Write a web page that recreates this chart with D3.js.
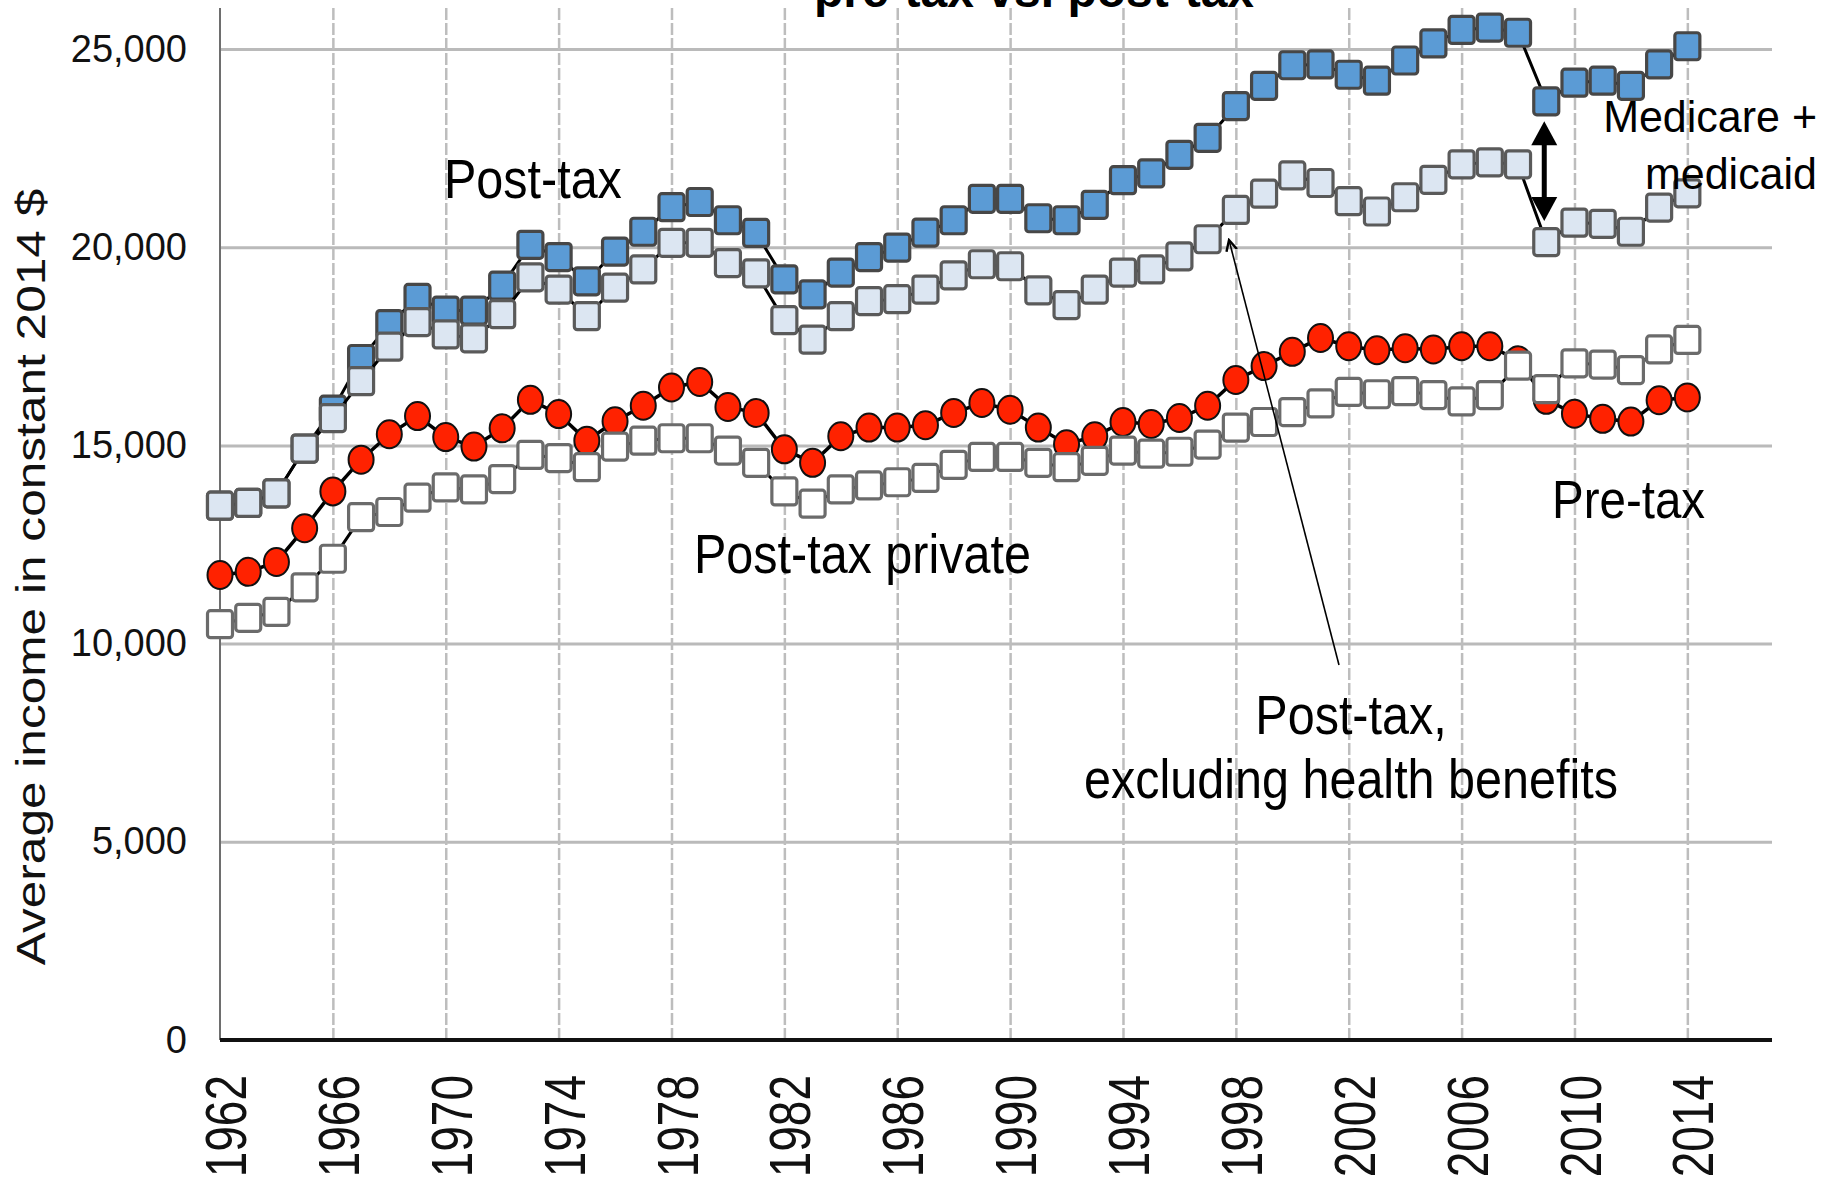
<!DOCTYPE html>
<html>
<head>
<meta charset="utf-8">
<script src="https://cdn.jsdelivr.net/npm/d3@7"></script>
<style>
  body { margin: 0; background: #fff; }
  svg { display: block; font-family: "Liberation Sans", Arial, sans-serif; }
</style>
</head>
<body>
<svg id="chart" width="1837" height="1185"></svg>
<script>
// Years on the x axis
const years = [1962, 1963, 1964, 1965, 1966, 1967, 1968, 1969, 1970, 1971, 1972, 1973, 1974, 1975,
  1976, 1977, 1978, 1979, 1980, 1981, 1982, 1983, 1984, 1985, 1986, 1987, 1988, 1989, 1990, 1991,
  1992, 1993, 1994, 1995, 1996, 1997, 1998, 1999, 2000, 2001, 2002, 2003, 2004, 2005, 2006, 2007,
  2008, 2009, 2010, 2011, 2012, 2013, 2014];

const tickYears = [1962, 1966, 1970, 1974, 1978, 1982, 1986, 1990, 1994, 1998, 2002, 2006, 2010, 2014];
const tickValues = [0, 5000, 10000, 15000, 20000, 25000];

// Post-tax (blue squares)
const postTax = [13480, 13550, 13790, 14920, 15900, 17180, 18060, 18720, 18400, 18400, 19030, 20060,
  19750, 19140, 19890, 20390, 21010, 21140, 20680, 20360, 19190, 18810, 19360, 19750, 19990, 20370,
  20680, 21220, 21220, 20730, 20680, 21070, 21690, 21860, 22330, 22760, 23560, 24070, 24590, 24610,
  24350, 24200, 24710, 25140, 25480, 25540, 25410, 23680, 24150, 24200, 24070, 24610, 25070];

// Post-tax, excluding health benefits (light squares)
const postTaxExHealth = [13480, 13550, 13790, 14920, 15690, 16620, 17490, 18110, 17800, 17700, 18310,
  19240, 18930, 18260, 18980, 19440, 20110, 20110, 19600, 19340, 18160, 17670, 18260, 18640, 18690,
  18930, 19290, 19570, 19520, 18910, 18540, 18930, 19360, 19440, 19770, 20200, 20940, 21350, 21810,
  21620, 21160, 20900, 21260, 21700, 22090, 22140, 22090, 20130, 20620, 20590, 20390, 21000, 21360];

// Pre-tax (red circles)
const preTax = [11730, 11810, 12060, 12910, 13840, 14640, 15280, 15740, 15210, 14970, 15430, 16150,
  15790, 15120, 15610, 16000, 16460, 16600, 15970, 15820, 14900, 14560, 15230, 15450, 15450, 15510,
  15820, 16070, 15900, 15450, 15030, 15230, 15590, 15540, 15690, 16000, 16650, 17000, 17360, 17710,
  17500, 17400, 17450, 17420, 17500, 17500, 17150, 16150, 15800, 15670, 15600, 16140, 16210];

// Post-tax private (white squares)
const postTaxPrivate = [10490, 10650, 10800, 11420, 12140, 13190, 13320, 13680, 13940, 13890, 14150,
  14760, 14680, 14450, 14970, 15120, 15180, 15180, 14870, 14560, 13840, 13530, 13890, 13990, 14070,
  14180, 14510, 14710, 14710, 14560, 14450, 14610, 14870, 14790, 14840, 15020, 15450, 15590, 15840,
  16060, 16350, 16290, 16370, 16270, 16110, 16270, 17010, 16420, 17070, 17040, 16900, 17420, 17660];

const svg = d3.select("#chart");

const plotLeft = 220, plotRight = 1772, plotTop = 8, plotBottom = 1040;

const x = d3.scaleLinear().domain([1962, 2017]).range([plotLeft, plotRight]);
const y = d3.scaleLinear().domain([0, 25000]).range([plotBottom, 49]);

// Horizontal gridlines
svg.append("g")
    .attr("transform", `translate(${plotLeft},0)`)
    .call(d3.axisLeft(y).tickValues(tickValues.slice(1)).tickSize(-(plotRight - plotLeft)).tickFormat(""))
    .call(g => g.select(".domain").remove())
    .call(g => g.selectAll("line").attr("stroke", "#bababa").attr("stroke-width", 3));

// Vertical gridlines (dashed)
svg.append("g")
    .attr("transform", `translate(0,${plotBottom})`)
    .call(d3.axisBottom(x).tickValues(tickYears.slice(1)).tickSize(-(plotBottom - plotTop)).tickFormat(""))
    .call(g => g.select(".domain").remove())
    .call(g => g.selectAll("line")
        .attr("stroke", "#bdbdbd")
        .attr("stroke-width", 2.5)
        .attr("stroke-dasharray", "12,3"));

// Y axis with labels
svg.append("g")
    .attr("transform", `translate(${plotLeft},0)`)
    .call(d3.axisLeft(y).tickValues(tickValues).tickSize(0).tickPadding(33).tickFormat(d3.format(",")))
    .call(g => g.select(".domain").remove())
    .call(g => g.selectAll("text")
        .attr("font-size", 38)
        .attr("font-family", "Liberation Sans, Arial, sans-serif")
        .attr("fill", "#111"));

svg.append("line")
    .attr("x1", plotLeft).attr("x2", plotLeft)
    .attr("y1", plotTop).attr("y2", plotBottom)
    .attr("stroke", "#6e6e6e").attr("stroke-width", 2);

// X axis with rotated year labels
svg.append("g")
    .attr("transform", `translate(0,${plotBottom})`)
    .call(d3.axisBottom(x).tickValues(tickYears).tickSize(0).tickFormat(d3.format("d")))
    .call(g => g.select(".domain").remove())
    .call(g => g.selectAll("text")
        .attr("x", 0).attr("y", 0).attr("dy", "0.36em")
        .attr("text-anchor", "end")
        .attr("transform", "translate(5,35) rotate(-90) scale(1,1.24)")
        .attr("font-size", 46)
        .attr("font-family", "Liberation Sans, Arial, sans-serif")
        .attr("fill", "#111"));

svg.append("line")
    .attr("x1", plotLeft).attr("x2", plotRight)
    .attr("y1", plotBottom).attr("y2", plotBottom)
    .attr("stroke", "#111").attr("stroke-width", 4);

// Y axis title
svg.append("text")
    .attr("transform", "translate(45,577) rotate(-90) scale(1.24,1)")
    .attr("text-anchor", "middle")
    .attr("font-size", 40)
    .attr("fill", "#111")
    .text("Average income in constant 2014 $");

// Chart title (cut at the top, as in the source)
svg.append("text")
    .attr("x", 1034).attr("y", 7)
    .attr("text-anchor", "middle")
    .attr("font-size", 48)
    .attr("font-weight", "bold")
    .attr("fill", "#000")
    .text("pre-tax vs. post-tax");

const line = d3.line().x((d, i) => x(years[i])).y(d => y(d));

function drawSquares(values, fill, stroke) {
    const g = svg.append("g");
    g.append("path")
        .datum(values)
        .attr("d", line)
        .attr("fill", "none")
        .attr("stroke", "#000")
        .attr("stroke-width", 3);
    g.selectAll("rect")
        .data(values)
        .join("rect")
        .attr("x", (d, i) => x(years[i]) - 12.5)
        .attr("y", d => y(d) - 13.5)
        .attr("width", 25)
        .attr("height", 27)
        .attr("rx", 3)
        .attr("fill", fill)
        .attr("stroke", stroke)
        .attr("stroke-width", 3.2);
}

drawSquares(postTax, "#5b9bd5", "#474747");
drawSquares(postTaxExHealth, "#dce6f2", "#5a5a5a");

// Pre-tax red circles
const red = svg.append("g");
red.append("path")
    .datum(preTax)
    .attr("d", line)
    .attr("fill", "none")
    .attr("stroke", "#000")
    .attr("stroke-width", 3.5);
red.selectAll("ellipse")
    .data(preTax)
    .join("ellipse")
    .attr("cx", (d, i) => x(years[i]))
    .attr("cy", d => y(d))
    .attr("rx", 12.5)
    .attr("ry", 14)
    .attr("fill", "#ff2200")
    .attr("stroke", "#111")
    .attr("stroke-width", 2);

drawSquares(postTaxPrivate, "#ffffff", "#6b6b6b");

// Annotations
function label(txt, px, py, anchor, size, sy) {
    svg.append("text")
        .attr("transform", `translate(${px},${py}) scale(1,${sy})`)
        .attr("text-anchor", anchor)
        .attr("font-size", size)
        .attr("fill", "#000")
        .text(txt);
}

label("Post-tax", 444, 198, "start", 48.5, 1.16);
label("Post-tax private", 694, 573, "start", 48.5, 1.16);
label("Post-tax,", 1351, 734, "middle", 48.5, 1.16);
label("excluding health benefits", 1351, 798, "middle", 48.5, 1.16);
label("Pre-tax", 1552, 518, "start", 47.5, 1.14);
label("Medicare +", 1817, 132, "end", 43, 1.02);
label("medicaid", 1817, 189, "end", 43, 1.02);

// Thin arrow pointing at the excluding-health-benefits series
const defs = svg.append("defs");
defs.append("marker")
    .attr("id", "openHead")
    .attr("viewBox", "-10 -6 12 12")
    .attr("refX", 0).attr("refY", 0)
    .attr("markerWidth", 13).attr("markerHeight", 13)
    .attr("markerUnits", "userSpaceOnUse")
    .attr("orient", "auto")
    .append("path")
    .attr("d", "M-10,-5 L0,0 L-10,5")
    .attr("fill", "none")
    .attr("stroke", "#000")
    .attr("stroke-width", 2.2);

const arrowX = d3.scaleLinear().domain([0, 1]).range([1339, 1229]);
const arrowY = d3.scaleLinear().domain([0, 1]).range([665, 240]);
svg.append("line")
    .attr("x1", arrowX(0)).attr("y1", arrowY(0))
    .attr("x2", arrowX(1)).attr("y2", arrowY(1))
    .attr("stroke", "#000")
    .attr("stroke-width", 1.6)
    .attr("marker-end", "url(#openHead)");

// Double-headed arrow showing the Medicare + medicaid gap in 2009
const gapX = x(2009) - 2;
const gapTop = y(postTax[47]) + 20;
const gapBottom = y(postTaxExHealth[47]) - 21;
svg.append("line")
    .attr("x1", gapX).attr("x2", gapX)
    .attr("y1", gapTop + 20).attr("y2", gapBottom - 20)
    .attr("stroke", "#000").attr("stroke-width", 5);
svg.append("path")
    .attr("d", `M${gapX},${gapTop} L${gapX - 13},${gapTop + 24} L${gapX + 13},${gapTop + 24} Z`)
    .attr("fill", "#000");
svg.append("path")
    .attr("d", `M${gapX},${gapBottom} L${gapX - 13},${gapBottom - 24} L${gapX + 13},${gapBottom - 24} Z`)
    .attr("fill", "#000");
</script>
</body>
</html>
